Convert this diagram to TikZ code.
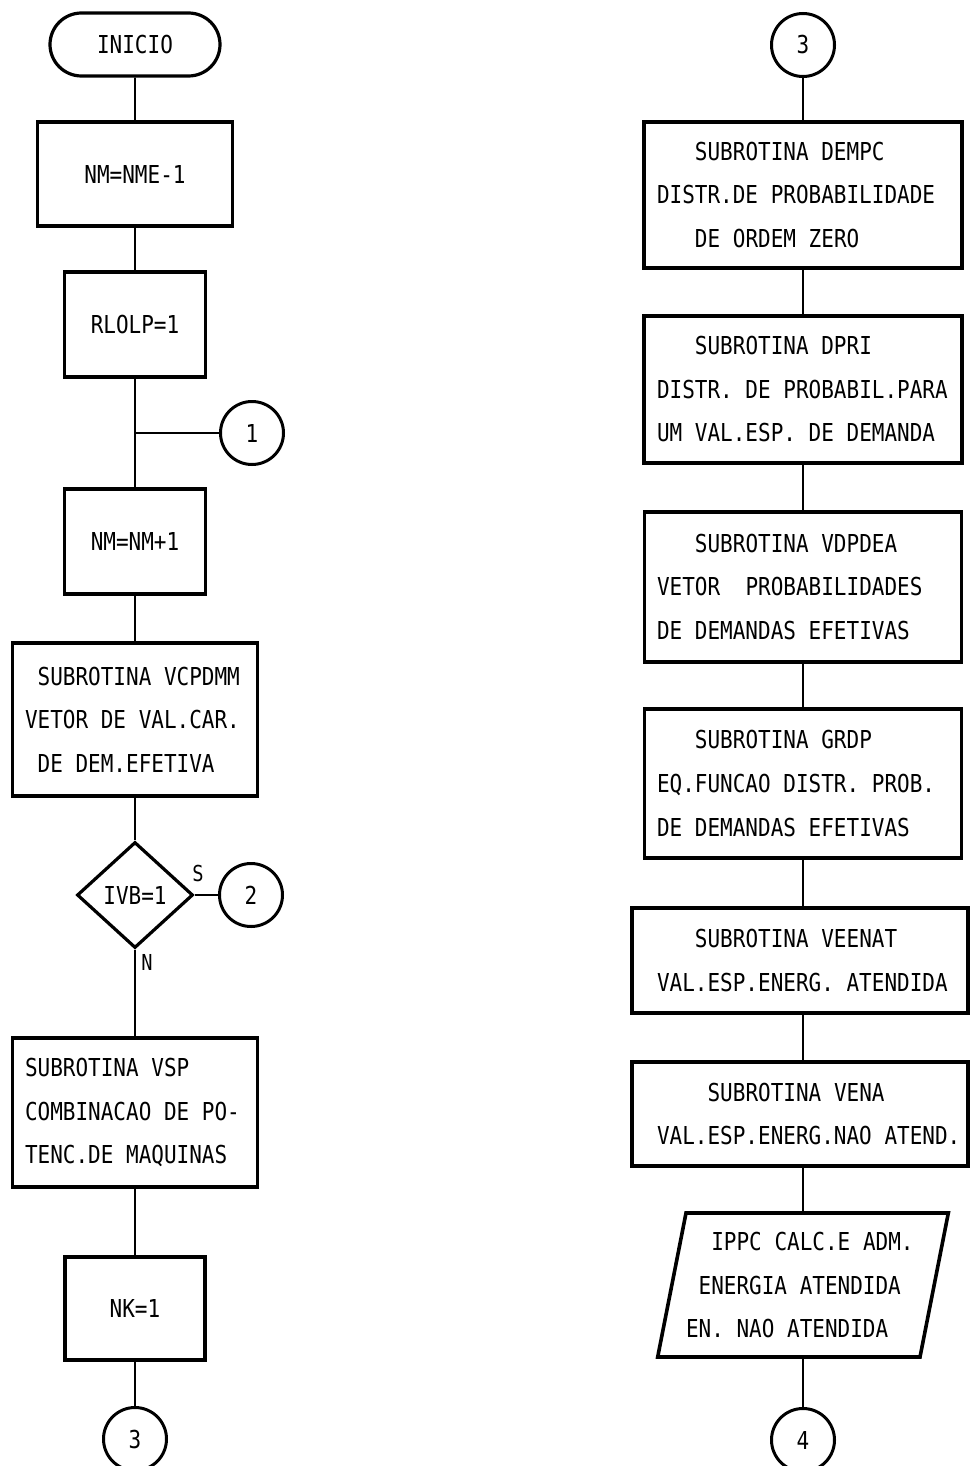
\documentclass[tikz,border=0pt]{standalone}
\usepackage{fontspec}
\newfontfamily\plotfont[FakeStretch=0.85]{DejaVu Sans Mono}
\usetikzlibrary{shapes.geometric,shapes.misc}
\hyphenpenalty=10000
\exhyphenpenalty=10000
\hbadness=10000
\hfuzz=100pt
\newcommand\plotsize{\fontsize{24.7}{43.5}\selectfont}
\begin{document}
\def~{\leavevmode\nobreak\hskip12.65pt\relax}
\begin{tikzpicture}[x=1pt,y=-1pt,
  every node/.style={font=\plotfont\plotsize, inner sep=0pt},
  box/.style={draw, rectangle, line width=3.6pt},
  term/.style={draw, rounded rectangle, line width=3.2pt},
  dec/.style={draw, diamond, line width=3.2pt},
  io/.style={draw, trapezium, trapezium left angle=75, trapezium right angle=105,
             trapezium stretches=true, line width=3.6pt},
  conector/.style={draw, circle, line width=3pt, minimum size=63pt},
  conn/.style={line width=1.8pt},
  lbl/.style={font=\plotfont\fontsize{22}{26}\selectfont},
]
\useasboundingbox (0,0) rectangle (969,1466);

% ---------------- left column ----------------
\node[term, minimum width=170pt, minimum height=63pt] (inicio) at (135,44.5) {INICIO};
\node[box, minimum width=195pt, minimum height=104pt] (nm1) at (135,174) {NM=NME-1};
\node[box, minimum width=141pt, minimum height=105pt] (rlolp) at (135,324.5) {RLOLP=1};
\coordinate (j1) at (135,433);
\node[conector] (c1) at (252,433) {1};
\node[box, minimum width=141pt, minimum height=105pt] (nm2) at (135,541.5) {NM=NM+1};
\node[box, minimum width=245pt, minimum height=153pt, text width=220pt, align=left] (vcp) at (135,719.5)
  {~SUBROTINA~VCPDMM\\VETOR~DE~VAL.CAR.\\~DE~DEM.EFETIVA};
\node[dec, minimum width=116pt, minimum height=106pt] (ivb) at (135,895) {IVB=1};
\node[lbl] (s) at (198,873) {S};
\node[conector] (c2) at (251,895) {2};
\node[lbl] (n) at (147,962) {N};
\node[box, minimum width=245pt, minimum height=149pt, text width=220pt, align=left] (vsp) at (135,1112.5)
  {SUBROTINA~VSP\\COMBINACAO~DE~PO-\\TENC.DE~MAQUINAS};
\node[box, minimum width=140pt, minimum height=103pt] (nk) at (135,1308.5) {NK=1};
\node[conector] (c3a) at (135,1439) {3};

\draw[conn] (inicio) -- (nm1);
\draw[conn] (nm1) -- (rlolp);
\draw[conn] (rlolp) -- (nm2);
\draw[conn] (j1) -- (c1);
\draw[conn] (nm2) -- (vcp);
\draw[conn] (vcp) -- (ivb);
\draw[conn] (ivb) -- (c2);
\draw[conn] (ivb) -- (vsp);
\draw[conn] (vsp) -- (nk);
\draw[conn] (nk) -- (c3a);

% ---------------- right column ----------------
\node[conector] (c3b) at (803,45) {3};
\node[box, minimum width=318pt, minimum height=146pt, text width=292pt, align=left] (dempc) at (803,195)
  {~~~SUBROTINA~DEMPC\\DISTR.DE~PROBABILIDADE\\~~~DE~ORDEM~ZERO};
\node[box, minimum width=318pt, minimum height=147pt, text width=292pt, align=left] (dpri) at (803,389.5)
  {~~~SUBROTINA~DPRI\\DISTR.~DE~PROBABIL.PARA\\UM~VAL.ESP.~DE~DEMANDA};
\node[box, minimum width=317pt, minimum height=150pt, text width=292pt, align=left] (vdpdea) at (803,587)
  {~~~SUBROTINA~VDPDEA\\VETOR~~PROBABILIDADES\\DE~DEMANDAS~EFETIVAS};
\node[box, minimum width=317pt, minimum height=149pt, text width=292pt, align=left] (grdp) at (803,783.5)
  {~~~SUBROTINA~GRDP\\EQ.FUNCAO~DISTR.~PROB.\\DE~DEMANDAS~EFETIVAS};
\node[box, minimum width=336pt, minimum height=105pt, text width=286pt, align=left] (veenat) at (800,960.5)
  {~~~SUBROTINA~VEENAT\\VAL.ESP.ENERG.~ATENDIDA};
\node[box, minimum width=336pt, minimum height=104pt, text width=286pt, align=left] (vena) at (800,1114)
  {~~~~SUBROTINA~VENA\\VAL.ESP.ENERG.NAO~ATEND.};
\node[io, minimum width=240pt, minimum height=144pt, text width=234pt, align=left] (ippc) at (803,1285)
  {~~IPPC~CALC.E~ADM.\\~ENERGIA~ATENDIDA\\EN.~NAO~ATENDIDA};
\node[conector] (c4) at (803,1440) {4};

\draw[conn] (c3b) -- (dempc);
\draw[conn] (dempc) -- (dpri);
\draw[conn] (dpri) -- (vdpdea);
\draw[conn] (vdpdea) -- (grdp);
\draw[conn] (grdp.south) -- (grdp.south |- veenat.north);
\draw[conn] (veenat.south -| grdp.south) -- (vena.north -| grdp.south);
\draw[conn] (vena.south -| grdp.south) -- (ippc.north -| grdp.south);
\draw[conn] (ippc) -- (c4);
\end{tikzpicture}
\end{document}
